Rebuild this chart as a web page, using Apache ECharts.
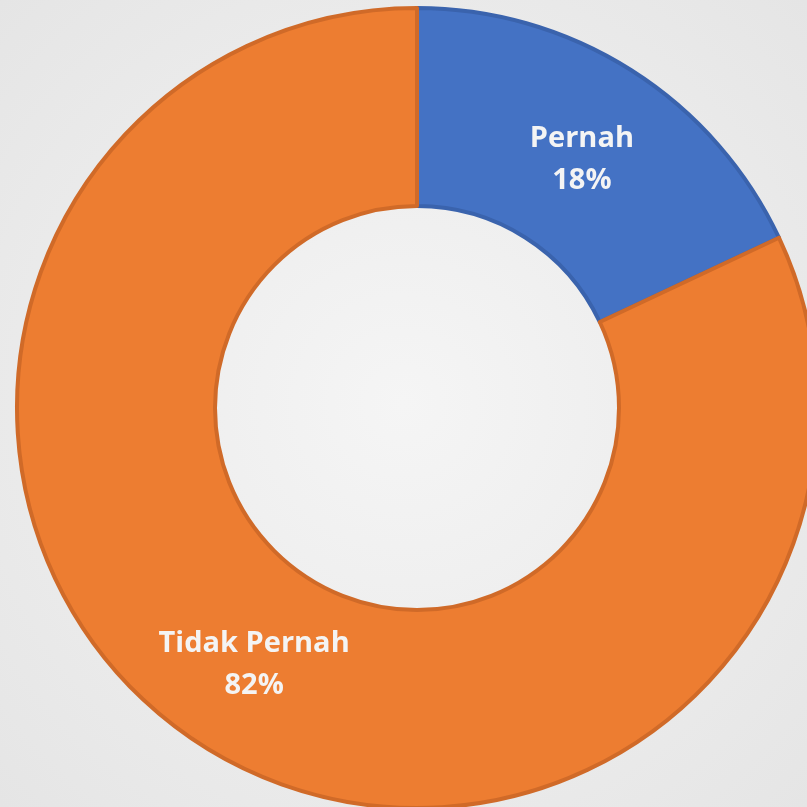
<!DOCTYPE html>
<html>
<head>
<meta charset="utf-8">
<script src="https://cdn.jsdelivr.net/npm/echarts@6/dist/echarts.min.js"></script>
<style>
  html, body { margin: 0; padding: 0; }
  #chart { width: 807px; height: 807px; }
</style>
</head>
<body>
<div id="chart"></div>
<script>
var categories = ['Pernah', 'Tidak Pernah'];
var values = [18, 82];
var colors = ['#4472C4', '#ED7D31'];
var borders = ['#3a63ad', '#d06a28'];
var labelShift = [[2, 8], [0, 0]];

var data = [];
for (var i = 0; i < categories.length; i++) {
  data.push({
    name: categories[i],
    value: values[i],
    itemStyle: { color: colors[i], borderColor: borders[i], borderWidth: 4 },
    label: { offset: labelShift[i] }
  });
}

var chart = echarts.init(document.getElementById('chart'));
chart.setOption({
  backgroundColor: {
    type: 'radial', x: 0.5, y: 0.5, r: 0.75,
    colorStops: [
      { offset: 0, color: '#f5f5f5' },
      { offset: 1, color: '#e4e4e4' }
    ]
  },
  series: [{
    type: 'pie',
    center: [417, 408],
    radius: [202, 400],
    startAngle: 90,
    clockwise: true,
    animation: false,
    label: {
      show: true,
      position: 'inside',
      formatter: '{b}\n{d}%',
      color: '#f4f4f4',
      fontFamily: 'Open Sans',
      fontWeight: 'bold',
      fontSize: 29,
      lineHeight: 42
    },
    labelLine: { show: false },
    data: data
  }]
});
</script>
</body>
</html>
